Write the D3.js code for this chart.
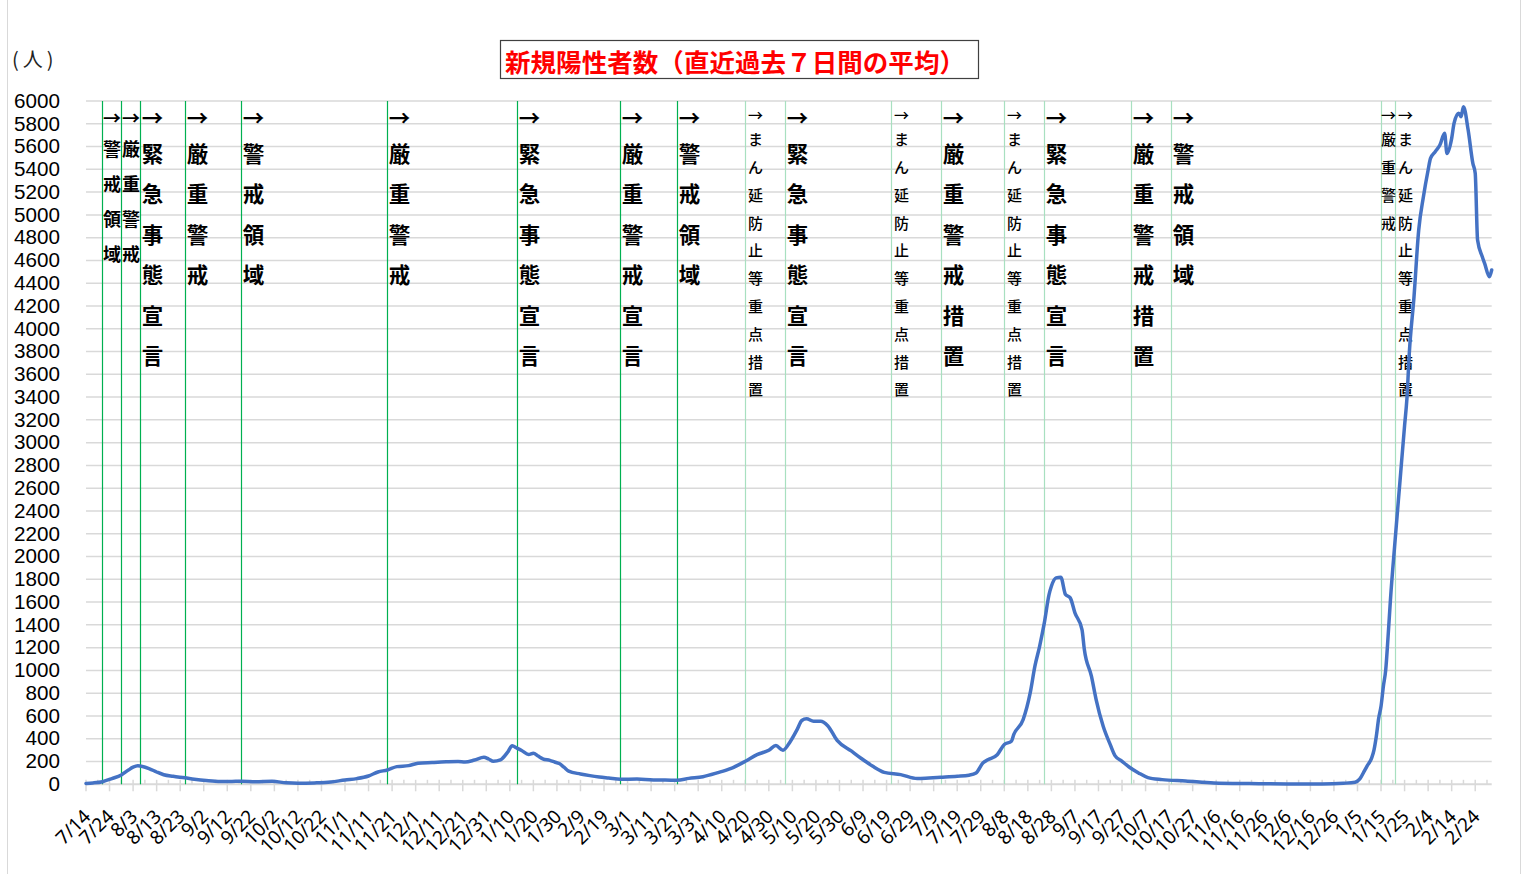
<!DOCTYPE html>
<html><head><meta charset="utf-8">
<script src="https://cdn.jsdelivr.net/npm/d3@7"></script>
<style>html,body{margin:0;padding:0;background:#fff;} svg{display:block}</style>
</head><body>
<svg id="chart" width="1526" height="874"></svg>
<script>
// ---------------- DATA ----------------
const startDate = "2020-07-14";
const endDate = "2022-03-03";
const dates = [
"2020-07-14","2020-07-17","2020-07-21","2020-07-25","2020-07-29","2020-08-01","2020-08-03","2020-08-05","2020-08-07","2020-08-10",
"2020-08-13","2020-08-16","2020-08-20","2020-08-25","2020-08-29","2020-09-03","2020-09-09","2020-09-14","2020-09-18","2020-09-24",
"2020-10-01","2020-10-07","2020-10-12","2020-10-19","2020-10-26","2020-11-01","2020-11-06","2020-11-11","2020-11-15","2020-11-19",
"2020-11-23","2020-11-28","2020-12-02","2020-12-08","2020-12-14","2020-12-19","2020-12-22","2020-12-26","2020-12-30","2021-01-01",
"2021-01-03","2021-01-06","2021-01-09","2021-01-11","2021-01-13","2021-01-15","2021-01-18","2021-01-20","2021-01-22","2021-01-24",
"2021-01-27","2021-01-29","2021-01-31","2021-02-02","2021-02-04","2021-02-09","2021-02-13","2021-02-17","2021-02-21","2021-02-26",
"2021-03-05","2021-03-12","2021-03-17","2021-03-22","2021-03-27","2021-04-02","2021-04-08","2021-04-14","2021-04-20","2021-04-25",
"2021-04-30","2021-05-03","2021-05-06","2021-05-09","2021-05-12","2021-05-14","2021-05-16","2021-05-19","2021-05-22","2021-05-25",
"2021-05-29","2021-06-04","2021-06-08","2021-06-13","2021-06-18","2021-06-25","2021-07-02","2021-07-07","2021-07-12","2021-07-19",
"2021-07-24","2021-07-27","2021-07-30","2021-08-01","2021-08-05","2021-08-08","2021-08-11","2021-08-12","2021-08-16","2021-08-19",
"2021-08-21","2021-08-23","2021-08-25","2021-08-27","2021-08-28","2021-08-30","2021-09-01","2021-09-03","2021-09-05","2021-09-07",
"2021-09-10","2021-09-11","2021-09-14","2021-09-16","2021-09-19","2021-09-22","2021-09-24","2021-09-27","2021-09-30","2021-10-04",
"2021-10-08","2021-10-14","2021-10-24","2021-11-05","2021-11-20","2021-12-06","2021-12-21","2021-12-30","2022-01-04","2022-01-06",
"2022-01-08","2022-01-09","2022-01-11","2022-01-12","2022-01-13","2022-01-14","2022-01-15","2022-01-16","2022-01-17","2022-01-18",
"2022-01-19","2022-01-21","2022-01-23","2022-01-25","2022-01-26","2022-01-27","2022-01-29","2022-01-31","2022-02-02","2022-02-04",
"2022-02-05","2022-02-07","2022-02-09","2022-02-11","2022-02-12","2022-02-14","2022-02-15","2022-02-17","2022-02-18","2022-02-19",
"2022-02-21","2022-02-23","2022-02-24","2022-02-25","2022-02-27","2022-02-28","2022-03-02","2022-03-03"
];
const values = [
8,12,23,50,82,125,150,162,157,136,
108,84,70,57,45,33,24,25,27,23,
26,13,9,12,20,38,50,73,108,126,
155,164,184,191,197,200,195,213,238,222,
202,214,280,338,318,297,262,273,248,224,
210,196,182,150,116,91,76,64,55,44,
46,38,38,35,52,67,100,140,202,261,
299,340,299,372,480,560,575,553,553,515,
386,293,231,160,105,85,50,55,61,70,
80,100,190,215,260,350,378,436,568,802,
1037,1212,1417,1666,1739,1812,1818,1666,1637,1505,
1359,1183,949,744,509,348,252,202,152,100,
59,41,29,12,6,3,3,9,18,47,
120,158,230,300,422,580,685,861,1007,1300,
1622,2149,2650,3150,3389,3784,4281,4867,5160,5394,
5496,5555,5613,5716,5540,5672,5804,5892,5862,5950,
5745,5452,5365,4779,4633,4574,4457,4516
];
const tickLabels = ["7/14","7/24","8/3","8/13","8/23","9/2","9/12","9/22","10/2","10/12","10/22","11/1","11/11","11/21","12/1","12/11","12/21","12/31","1/10","1/20","1/30","2/9","2/19","3/1","3/11","3/21","3/31","4/10","4/20","4/30","5/10","5/20","5/30","6/9","6/19","6/29","7/9","7/19","7/29","8/8","8/18","8/28","9/7","9/17","9/27","10/7","10/17","10/27","11/6","11/16","11/26","12/6","12/16","12/26","1/5","1/15","1/25","2/4","2/14","2/24"];
const yTickValues = [0,200,400,600,800,1000,1200,1400,1600,1800,2000,2200,2400,2600,2800,3000,3200,3400,3600,3800,4000,4200,4400,4600,4800,5000,5200,5400,5600,5800,6000];
const eventDates = ["2020-07-21","2020-07-29","2020-08-06","2020-08-25","2020-09-18","2020-11-19","2021-01-13","2021-02-26","2021-03-22","2021-04-20","2021-05-07","2021-06-21","2021-07-12","2021-08-08","2021-08-25","2021-10-01","2021-10-18","2022-01-15","2022-01-21"];
const eventLabels = ["警戒領域","厳重警戒","緊急事態宣言","厳重警戒","警戒領域","厳重警戒","緊急事態宣言","厳重警戒宣言","警戒領域","まん延防止等重点措置","緊急事態宣言","まん延防止等重点措置","厳重警戒措置","まん延防止等重点措置","緊急事態宣言","厳重警戒措置","警戒領域","厳重警戒","まん延防止等重点措置"];
const titleText = "新規陽性者数（直近過去７日間の平均）";
const unitText = "(人)";

// ---------------- DRAW ----------------
const parse = d3.utcParse("%Y-%m-%d");
const svg = d3.select("#chart");
const JP = "'Noto Sans CJK JP','Noto Sans',sans-serif";
const NUM = "'Noto Sans','DejaVu Sans',sans-serif";
const YNUM = "'Liberation Sans',Arial,sans-serif";

const plot = {left: 86, right: 1491.7, top: 101, bottom: 784.3};
const t0 = parse(startDate), t1 = parse(endDate);
const x = d3.scaleUtc().domain([t0, t1]).range([plot.left, plot.right]);
const y = d3.scaleLinear().domain([0, 6000]).range([plot.bottom, plot.top]);

// chart frame
svg.append("rect").attr("x", 7.5).attr("y", -2).attr("width", 1513).attr("height", 880)
  .attr("fill", "#fff").attr("stroke", "#d9d9d9").attr("stroke-width", 1);

// gridlines
svg.append("g").selectAll("line").data(yTickValues.filter(v => v > 0)).join("line")
  .attr("x1", plot.left).attr("x2", plot.right)
  .attr("y1", d => y(d)).attr("y2", d => y(d))
  .attr("stroke", "#d9d9d9").attr("stroke-width", 1.5);

// y axis labels
const yAxis = d3.axisLeft(y).tickValues(yTickValues).tickSize(0).tickPadding(26).tickFormat(d3.format("d"));
const gy = svg.append("g").attr("transform", `translate(${plot.left},0)`).call(yAxis);
gy.select(".domain").remove();
gy.selectAll("text").attr("font-family", YNUM).attr("font-size", 19.5).attr("fill", "#000")
  .attr("transform", "scale(1.06,1)").attr("x", -26 / 1.06);

// x axis
const majorDays = d3.range(0, tickLabels.length * 10, 10);
const nDays = d3.utcDay.count(t0, t1);
const minorDays = d3.range(5, nDays + 1, 10);
const gx = svg.append("g");
gx.selectAll("line.minor").data(minorDays).join("line").attr("class", "minor")
  .attr("x1", d => x(d3.utcDay.offset(t0, d))).attr("x2", d => x(d3.utcDay.offset(t0, d)))
  .attr("y1", plot.bottom - 4.5).attr("y2", plot.bottom)
  .attr("stroke", "#d9d9d9").attr("stroke-width", 1.5);
gx.selectAll("line.major").data(majorDays).join("line").attr("class", "major")
  .attr("x1", d => x(d3.utcDay.offset(t0, d))).attr("x2", d => x(d3.utcDay.offset(t0, d)))
  .attr("y1", plot.bottom - 4.5).attr("y2", plot.bottom + 7)
  .attr("stroke", "#d9d9d9").attr("stroke-width", 1.5);
gx.append("line").attr("x1", plot.left).attr("x2", plot.right)
  .attr("y1", plot.bottom).attr("y2", plot.bottom)
  .attr("stroke", "#d9d9d9").attr("stroke-width", 2);
gx.selectAll("text").data(majorDays).join("text")
  .attr("transform", (d) => `translate(${x(d3.utcDay.offset(t0, d)) + 1},813) rotate(-45)`)
  .attr("text-anchor", "end").attr("dy", "0.35em")
  .attr("font-family", NUM).attr("font-size", 19).attr("fill", "#000")
  .text((d, i) => tickLabels[i]);

// event lines
const ev = eventDates.map((d, i) => ({date: parse(d), label: eventLabels[i], i}));
svg.append("g").selectAll("line").data(ev).join("line")
  .attr("x1", d => Math.round(x(d.date)) + 0.5).attr("x2", d => Math.round(x(d.date)) + 0.5)
  .attr("y1", plot.top).attr("y2", plot.bottom)
  .attr("stroke", d => d.i <= 8 ? "#00b050" : "#a8e0c0").attr("stroke-width", 1.2);

// event labels
function kind(d) {
  if (d.i <= 1) return "M";
  if (d.label.length > 8 || d.i >= 17) return "S";
  return "L";
}
const styles = {
  L: {fs: 21.5, fw: 700, arrowY: 116.7, y0: 152.5, step: 40.4, dx: 12},
  M: {fs: 18, fw: 700, arrowY: 116.7, y0: 148.3, step: 35, dx: 9.5},
  S: {fs: 15, fw: 500, arrowY: 114, y0: 138.7, step: 27.8, dx: 10}
};
const gl = svg.append("g");
ev.forEach((d, k) => {
  const s = styles[kind(d)];
  const lx = Math.round(x(d.date)) + 0.5;
  const next = k < ev.length - 1 ? Math.round(x(ev[k + 1].date)) + 0.5 : 9999;
  const dx = Math.min(s.dx, (next - lx) / 2);
  const cx = lx + dx;
  gl.append("text").attr("x", cx).attr("y", s.arrowY)
    .attr("text-anchor", "middle").attr("dominant-baseline", "central")
    .attr("font-family", JP).attr("font-size", s.fs).attr("font-weight", s.fw).attr("fill", "#000")
    .text("→");
  Array.from(d.label).forEach((ch, j) => {
    gl.append("text").attr("x", cx).attr("y", s.y0 + j * s.step)
      .attr("text-anchor", "middle").attr("dominant-baseline", "central")
      .attr("font-family", JP).attr("font-size", s.fs).attr("font-weight", s.fw).attr("fill", "#000")
      .text(ch);
  });
});

// data line
const series = dates.map((d, i) => ({date: parse(d), value: values[i]}));
svg.append("path").datum(series)
  .attr("fill", "none").attr("stroke", "#4472c4").attr("stroke-width", 3.5)
  .attr("stroke-linejoin", "round").attr("stroke-linecap", "round")
  .attr("d", d3.line().x(d => x(d.date)).y(d => y(d.value)).curve(d3.curveMonotoneX));

// title
svg.append("rect").attr("x", 500.5).attr("y", 40.5).attr("width", 478).attr("height", 38)
  .attr("fill", "#fff").attr("stroke", "#404040").attr("stroke-width", 1.2);
svg.append("text").attr("x", 505).attr("y", 60).attr("dominant-baseline", "central")
  .attr("font-family", JP).attr("font-size", 25.5).attr("font-weight", 700).attr("fill", "#ff0000")
  .attr("textLength", 460).attr("lengthAdjust", "spacing")
  .text(titleText);

// unit
svg.append("text").attr("x", 12).attr("y", 58).attr("dominant-baseline", "central")
  .attr("font-family", JP).attr("font-size", 20).attr("letter-spacing", 4).attr("fill", "#222")
  .text(unitText);
</script>
</body></html>
